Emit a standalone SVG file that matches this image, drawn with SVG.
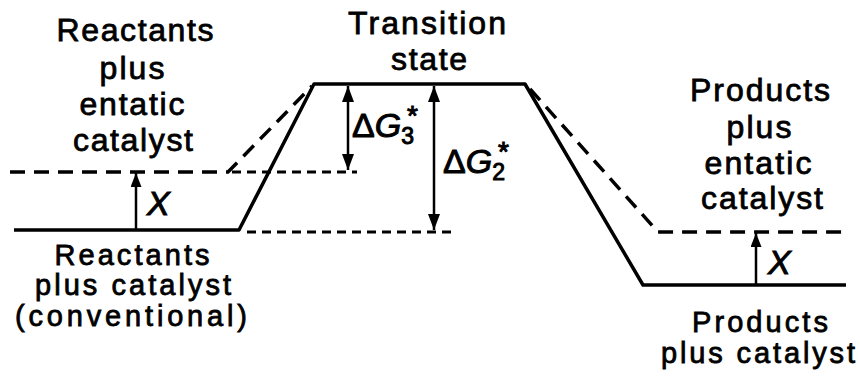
<svg xmlns="http://www.w3.org/2000/svg" width="860" height="378" viewBox="0 0 860 378">
  <defs>
    <marker id="ah" viewBox="0 0 16 12" refX="16" refY="6" markerWidth="16" markerHeight="12" markerUnits="userSpaceOnUse" orient="auto-start-reverse">
      <path d="M0,0 L16,6 L0,12 z" fill="#000"/>
    </marker>
    <marker id="ahs" viewBox="0 0 14 11" refX="14" refY="5.5" markerWidth="14" markerHeight="11" markerUnits="userSpaceOnUse" orient="auto">
      <path d="M0,0 L14,5.5 L0,11 z" fill="#000"/>
    </marker>
  </defs>
  <style>
    .lbl { font-family: "Liberation Sans", Arial, Helvetica, sans-serif; font-size: 32px; fill: #000; stroke: #000; stroke-width: 0.8; text-anchor: middle; }
    .sm { font-size: 29px; }
    .math { font-family: "Liberation Sans", Arial, Helvetica, sans-serif; font-size: 34px; fill: #000; stroke: #000; stroke-width: 1; }
    .solid { fill: none; stroke: #000; stroke-width: 3.5; stroke-linejoin: round; }
    .longdash { fill: none; stroke: #000; stroke-width: 3.5; stroke-dasharray: 15 9; }
    .shortdash { fill: none; stroke: #000; stroke-width: 3; stroke-dasharray: 9 6; }
    .arrow { fill: none; stroke: #000; stroke-width: 2.5; }
  </style>
  <rect width="860" height="378" fill="#fff"/>

  <g id="profiles">
    <path class="solid" d="M14,230 L239,230 L314,84 L525,84 L643,285 L846,285"/>
    <path class="longdash" d="M10,172 L228,172 L312,86"/>
    <path class="longdash" d="M530,89 L658,232 L846,232"/>
  </g>

  <g id="connectors">
    <path class="shortdash" d="M232,172 L357,172"/>
    <path class="shortdash" d="M247,232 L456,232"/>
    <line class="arrow" x1="348" y1="86" x2="348" y2="170" marker-start="url(#ah)" marker-end="url(#ah)"/>
    <line class="arrow" x1="434" y1="86" x2="434" y2="230" marker-start="url(#ah)" marker-end="url(#ah)"/>
    <line class="arrow" x1="136" y1="229" x2="136" y2="173" marker-end="url(#ahs)"/>
    <line class="arrow" x1="756" y1="284" x2="756" y2="233" marker-end="url(#ahs)"/>
  </g>

  <g id="reactants-entatic">
    <text class="lbl" x="135" y="41" textLength="157" lengthAdjust="spacing">Reactants</text>
    <text class="lbl" x="132" y="79" textLength="65" lengthAdjust="spacing">plus</text>
    <text class="lbl" x="132" y="115" textLength="105" lengthAdjust="spacing">entatic</text>
    <text class="lbl" x="133" y="151" textLength="120" lengthAdjust="spacing">catalyst</text>
  </g>

  <g id="reactants-conventional">
    <text class="lbl sm" x="132" y="265" textLength="155" lengthAdjust="spacing">Reactants</text>
    <text class="lbl sm" x="133" y="295" textLength="196" lengthAdjust="spacing">plus catalyst</text>
    <text class="lbl sm" x="131" y="326" textLength="232" lengthAdjust="spacing">(conventional)</text>
  </g>

  <g id="transition-state">
    <text class="lbl" x="427" y="34" textLength="158" lengthAdjust="spacing">Transition</text>
    <text class="lbl" x="429" y="70" textLength="76" lengthAdjust="spacing">state</text>
  </g>

  <g id="products-entatic">
    <text class="lbl" x="760" y="101" textLength="140" lengthAdjust="spacing">Products</text>
    <text class="lbl" x="759" y="138" textLength="65" lengthAdjust="spacing">plus</text>
    <text class="lbl" x="758" y="174" textLength="107" lengthAdjust="spacing">entatic</text>
    <text class="lbl" x="762" y="209" textLength="122" lengthAdjust="spacing">catalyst</text>
  </g>

  <g id="products-catalyst">
    <text class="lbl sm" x="760" y="332" textLength="136" lengthAdjust="spacing">Products</text>
    <text class="lbl sm" x="758" y="363" textLength="194" lengthAdjust="spacing">plus catalyst</text>
  </g>

  <g id="labels">
    <text class="math" x="352" y="137">Δ<tspan font-style="italic">G</tspan><tspan font-size="23" dy="7">3</tspan><tspan font-size="28" dx="-7" dy="-19">*</tspan></text>
    <text class="math" x="443" y="173">Δ<tspan font-style="italic">G</tspan><tspan font-size="23" dy="7">2</tspan><tspan font-size="28" dx="-7" dy="-19">*</tspan></text>
    <text class="math" x="147" y="215" font-style="italic">X</text>
    <text class="math" x="768" y="274" font-style="italic">X</text>
  </g>
</svg>
